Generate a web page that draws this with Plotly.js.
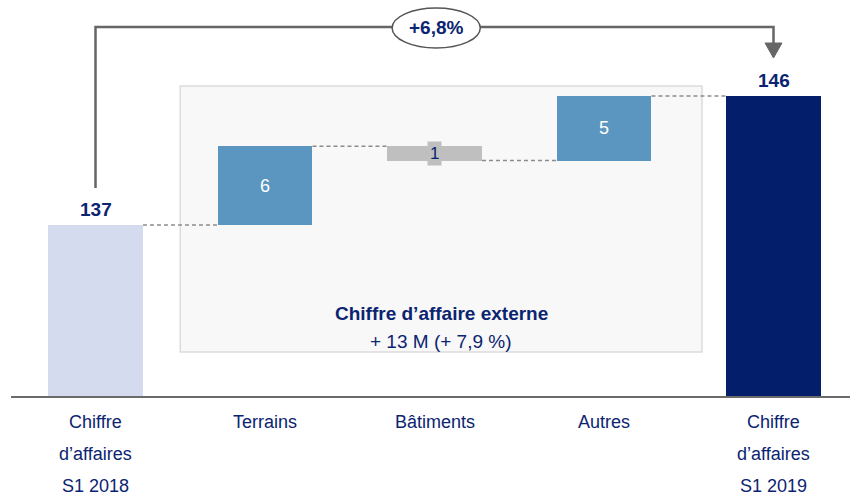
<!DOCTYPE html>
<html>
<head>
<meta charset="utf-8">
<script src="https://cdn.plot.ly/plotly-3.0.1.min.js"></script>
<style>html,body{margin:0;padding:0;background:#fff;}#chart{width:850px;height:497px;}</style>
</head>
<body>
<div id="chart"></div>
<script>
// ---- Data ----
const categories = ["Chiffre d’affaires S1 2018", "Terrains", "Bâtiments", "Autres", "Chiffre d’affaires S1 2019"];
const tickLabelLines = [["Chiffre", "d’affaires", "S1 2018"], ["Terrains"], ["Bâtiments"], ["Autres"], ["Chiffre", "d’affaires", "S1 2019"]];
const measures = ["absolute", "relative", "relative", "relative", "total"];
const values = [137, 5.5, -1, 4.5, 146];
const valueLabels = ["137", "6", "1", "5", "146"];
const barColors = ["#d5dbef", "#5b96c0", "#bfbfbf", "#5b96c0", "#031f6b"];
const growthLabel = "+6,8%";
const boxTitle = "Chiffre d’affaire externe";
const boxSubtitle = "+ 13 M (+ 7,9 %)";

// ---- Build bars (base + length) ----
const idx = categories.map((c, i) => i);
const bases = [], lengths = [], tops = [];
let running = 0;
measures.forEach((m, i) => {
  if (m === "absolute" || m === "total") {
    bases.push(0); lengths.push(values[i]); running = values[i];
  } else {
    bases.push(running); lengths.push(values[i]); running += values[i];
  }
  tops.push(running);
});

const BW = 0.56;
const navy = "#0b2470";
const FONT = "Liberation Sans, Arial, sans-serif";

const barTrace = {
  type: "bar", x: idx, y: lengths, base: bases, width: BW,
  marker: {color: barColors, line: {width: 0}},
  hovertext: categories, hoverinfo: "text", showlegend: false
};

// connectors
const cx = [], cy = [];
for (let i = 0; i < idx.length - 1; i++) {
  cx.push(idx[i] + BW / 2, idx[i + 1] - BW / 2, null);
  cy.push(tops[i], tops[i], null);
}
const connTrace = {
  type: "scatter", mode: "lines", x: cx, y: cy,
  line: {color: "#8c8c8c", width: 1.5, dash: "4px,3px"},
  hoverinfo: "skip", showlegend: false
};

// geometry helpers (pixel -> paper, plot area 397px tall)
const PH = 397;
const py = p => (PH - p) / PH;

const annotations = [];
// value labels
idx.forEach(i => {
  const m = measures[i];
  if (m === "absolute" || m === "total") {
    annotations.push({x: i, y: tops[i], xref: "x", yref: "y", text: "<b>" + valueLabels[i] + "</b>",
      showarrow: false, xanchor: "center", yanchor: "bottom", yshift: 3, font: {family: FONT, size: 19, color: navy}});
  } else if (values[i] < 0) {
    annotations.push({x: i, y: bases[i] + lengths[i] / 2, xref: "x", yref: "y", text: valueLabels[i],
      showarrow: false, xanchor: "center", yanchor: "middle", bgcolor: "#bfbfbf", borderpad: 2,
      font: {family: FONT, size: 17, color: navy}});
  } else {
    annotations.push({x: i, y: bases[i] + lengths[i] / 2, xref: "x", yref: "y", text: valueLabels[i],
      showarrow: false, xanchor: "center", yanchor: "middle", font: {family: FONT, size: 18, color: "#ffffff"}});
  }
});
// category labels (three lines spaced like the reference)
tickLabelLines.forEach((lines, i) => {
  lines.forEach((t, k) => {
    annotations.push({x: i, y: py(422 + 32 * k), xref: "x", yref: "paper", text: t, showarrow: false,
      xanchor: "center", yanchor: "middle", font: {family: FONT, size: 18, color: navy}});
  });
});
// box texts
annotations.push({x: 2.04, y: py(313), xref: "x", yref: "paper", text: "<b>" + boxTitle + "</b>", showarrow: false,
  xanchor: "center", yanchor: "middle", font: {family: FONT, size: 19, color: navy}});
annotations.push({x: 2.04, y: py(341), xref: "x", yref: "paper", text: boxSubtitle, showarrow: false,
  xanchor: "center", yanchor: "middle", font: {family: FONT, size: 19, color: navy}});
// growth label
annotations.push({x: 2.01, y: py(28), xref: "x", yref: "paper", text: "<b>" + growthLabel + "</b>", showarrow: false,
  xanchor: "center", yanchor: "middle", font: {family: FONT, size: 19, color: navy}});

const shapes = [
  // light box behind middle bars
  {type: "rect", layer: "below", xref: "x", yref: "paper", x0: 0.5, x1: 3.578, y0: py(352), y1: py(86),
    fillcolor: "#f8f8f8", line: {color: "#dcdcdc", width: 1.5}},
  // baseline
  {type: "line", xref: "paper", yref: "paper", x0: 11 / 850, x1: 1, y0: py(397), y1: py(397),
    line: {color: "#6b6b6b", width: 2}},
  // growth bracket
  {type: "path", xref: "x", yref: "paper",
    path: "M 0," + py(188) + " L 0," + py(27) + " L 4," + py(27) + " L 4," + py(44),
    line: {color: "#666666", width: 2.5}},
  {type: "path", xref: "x", yref: "paper",
    path: "M 3.95," + py(43) + " L 4.05," + py(43) + " L 4," + py(58) + " Z",
    fillcolor: "#666666", line: {color: "#666666", width: 1}},
  // oval
  {type: "circle", xref: "x", yref: "paper", x0: 1.75, x1: 2.27, y0: py(48), y1: py(8),
    fillcolor: "#ffffff", line: {color: "#555555", width: 1.5}}
];

const layout = {
  width: 850, height: 497,
  margin: {l: 0, r: 0, t: 0, b: 100, pad: 0},
  paper_bgcolor: "#ffffff", plot_bgcolor: "rgba(0,0,0,0)",
  xaxis: {range: [-0.5634, 4.4513], showgrid: false, zeroline: false, showticklabels: false, showline: false, ticks: "", fixedrange: true},
  yaxis: {range: [125, 152.7], showgrid: false, zeroline: false, showticklabels: false, showline: false, ticks: "", fixedrange: true},
  shapes: shapes,
  annotations: annotations,
  bargap: 0,
  font: {family: FONT, color: navy}
};

Plotly.newPlot("chart", [barTrace, connTrace], layout, {displayModeBar: false, staticPlot: true});
</script>
</body>
</html>
